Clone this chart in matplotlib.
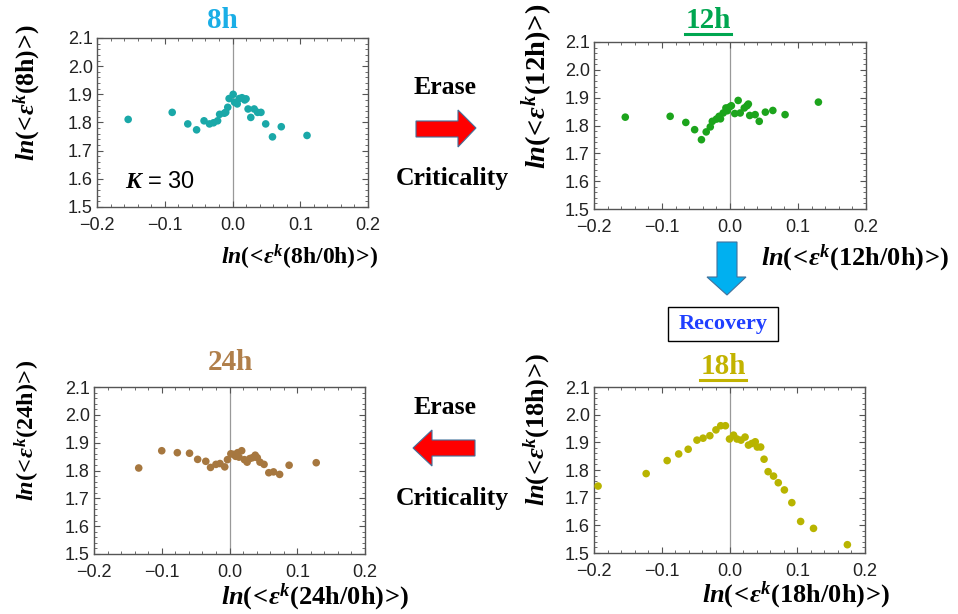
################################################################################
##### scatter panels of ln(<eps^k(t)>) vs ln(<eps^k(t/0h)>) for four time points #####
import matplotlib
matplotlib.use('Agg')
import matplotlib.pyplot as plt
from matplotlib.patches import Polygon, Rectangle
from matplotlib.ticker import MultipleLocator, FuncFormatter
import numpy as np

plt.rcParams['mathtext.fontset'] = 'custom'
plt.rcParams['mathtext.rm'] = 'Liberation Serif:bold'
plt.rcParams['mathtext.bf'] = 'Liberation Serif:bold'
plt.rcParams['mathtext.it'] = 'Liberation Serif:italic:bold'
plt.rcParams['font.family'] = 'Liberation Sans'

################################################################################
##### data #####
x_8h = [-0.154, -0.089, -0.066, -0.053, -0.042, -0.034, -0.028, -0.022, -0.019, -0.012,
        -0.010, -0.007, -0.005, 0.001, 0.003, 0.007, 0.010, 0.014, 0.018, 0.020,
        0.023, 0.027, 0.032, 0.037, 0.042, 0.049, 0.059, 0.072, 0.110]
y_8h = [1.811, 1.836, 1.795, 1.774, 1.806, 1.795, 1.799, 1.806, 1.829, 1.833,
        1.836, 1.854, 1.885, 1.900, 1.872, 1.866, 1.885, 1.888, 1.880, 1.884,
        1.848, 1.818, 1.848, 1.836, 1.836, 1.795, 1.749, 1.785, 1.754]

x_12h = [-0.154, -0.088, -0.065, -0.052, -0.042, -0.035, -0.029, -0.026, -0.020, -0.016,
         -0.014, -0.010, -0.006, -0.004, -0.001, 0.002, 0.007, 0.012, 0.015, 0.021,
         0.025, 0.027, 0.029, 0.037, 0.043, 0.052, 0.063, 0.081, 0.130]
y_12h = [1.830, 1.833, 1.811, 1.785, 1.749, 1.777, 1.795, 1.815, 1.823, 1.833,
         1.824, 1.845, 1.863, 1.853, 1.866, 1.871, 1.843, 1.890, 1.845, 1.863,
         1.871, 1.877, 1.836, 1.839, 1.815, 1.848, 1.854, 1.839, 1.884]

x_24h = [-0.134, -0.100, -0.077, -0.059, -0.047, -0.035, -0.028, -0.020, -0.014, -0.007,
         -0.003, 0.002, 0.006, 0.009, 0.012, 0.014, 0.018, 0.022, 0.026, 0.030,
         0.034, 0.038, 0.041, 0.045, 0.051, 0.058, 0.065, 0.074, 0.088, 0.128]
y_24h = [1.809, 1.871, 1.864, 1.862, 1.840, 1.833, 1.811, 1.822, 1.825, 1.813,
         1.839, 1.860, 1.858, 1.851, 1.864, 1.848, 1.871, 1.839, 1.830, 1.843,
         1.846, 1.855, 1.846, 1.830, 1.822, 1.792, 1.795, 1.786, 1.819, 1.828]

x_18h = [-0.194, -0.123, -0.092, -0.075, -0.061, -0.048, -0.039, -0.029, -0.020, -0.013,
         -0.006, 0.000, 0.006, 0.011, 0.017, 0.023, 0.028, 0.033, 0.038, 0.041,
         0.046, 0.051, 0.057, 0.065, 0.072, 0.081, 0.092, 0.105, 0.124, 0.174]
y_18h = [1.742, 1.787, 1.834, 1.858, 1.875, 1.908, 1.915, 1.924, 1.945, 1.960,
         1.960, 1.912, 1.926, 1.912, 1.908, 1.919, 1.890, 1.896, 1.902, 1.883,
         1.883, 1.839, 1.794, 1.778, 1.754, 1.728, 1.682, 1.614, 1.589, 1.530]

x_ticks = [-0.2, -0.1, 0.0, 0.1, 0.2]
y_ticks = [1.5, 1.6, 1.7, 1.8, 1.9, 2.0, 2.1]

################################################################################
##### figure and helpers (positions given in pixels of a 958x614 image) #####
W, H = 958, 614
fig = plt.figure(figsize=(W / 100, H / 100), dpi=100)
fig.patch.set_facecolor('white')

#overlay axes in pixel units for arrows and boxes
over = fig.add_axes([0, 0, 1, 1])
over.set_xlim(0, W)
over.set_ylim(H, 0)
over.axis('off')

def fx(x):
    return x / W

def fy(y):
    return 1 - y / H

def tick_fmt(v, pos):
    return ('%.1f' % np.round(v, 2)).replace('-', '\u2212')

def make_panel(l, t, r, b, xs, ys, color):
    ax = fig.add_axes([fx(l), fy(b), (r - l) / W, (b - t) / H])
    ax.scatter(xs, ys, s=30, color=color, edgecolors='none', zorder=3)
    ax.axvline(0, color='#999999', linewidth=0.9, zorder=1)
    ax.set_xlim(-0.2, 0.2)
    ax.set_ylim(1.5, 2.1)
    ax.set_xticks(x_ticks)
    ax.set_yticks(y_ticks)
    ax.xaxis.set_minor_locator(MultipleLocator(0.02))
    ax.yaxis.set_minor_locator(MultipleLocator(0.02))
    ax.xaxis.set_major_formatter(FuncFormatter(tick_fmt))
    ax.yaxis.set_major_formatter(FuncFormatter(tick_fmt))
    ax.tick_params(which='both', direction='in', top=True, right=True, color='#555555',
                   labelsize=13, labelcolor='#222222')
    ax.tick_params(axis='x', pad=7)
    ax.tick_params(axis='y', pad=3)
    ax.tick_params(which='major', length=4, width=0.8)
    ax.tick_params(which='minor', length=2.5, width=0.6)
    for sp in ax.spines.values():
        sp.set_color('#555555')
        sp.set_linewidth(1.0)
    return ax

def title_text(x, y, label, color, underline=False):
    t = fig.text(fx(x), fy(y), label, color=color, ha='center', va='center',
                 fontsize=21, fontweight='bold', family='Liberation Serif')
    if underline:
        fig.canvas.draw()
        bb = t.get_window_extent()
        over.plot([bb.x0, bb.x1], [H - bb.y0, H - bb.y0], color=color, linewidth=2.2)

def axis_label(x, y, label, size, rot=0):
    fig.text(fx(x), fy(y), label, ha='center', va='center', fontsize=size, rotation=rot,
             color='black')

def eps_label(inner):
    return r'$\mathit{ln}(\!{<}\!\mathit{\varepsilon}^{k}(\mathrm{' + inner + r'})\!{>}\!)$'

################################################################################
##### the four panels #####
ax1 = make_panel(97, 38, 368, 207, x_8h, y_8h, '#1aa8a8')
ax2 = make_panel(594, 42, 866, 209, x_12h, y_12h, '#1ca41c')
ax3 = make_panel(94, 387, 365, 554, x_24h, y_24h, '#a6773f')
ax4 = make_panel(594, 387, 865, 553, x_18h, y_18h, '#b8b400')

ax1.text(-0.107, 1.59, r'$\mathit{K}$ = 30', ha='center', va='center', fontsize=17,
         family='Liberation Sans')

title_text(222, 20, '8h', '#1aaee6')
title_text(708, 20, '12h', '#00a650', underline=True)
title_text(230, 362, '24h', '#b07f4a')
title_text(723, 366, '18h', '#c2b300', underline=True)

axis_label(27, 93, eps_label('8h'), 18.5, 90)
axis_label(300, 257, eps_label('8h/0h'), 17)
axis_label(537, 86, eps_label('12h'), 20.5, 90)
axis_label(855, 258, eps_label('12h/0h'), 19)
axis_label(27, 430, eps_label('24h'), 17.5, 90)
axis_label(315, 597, eps_label('24h/0h'), 19)
axis_label(796, 595, eps_label('18h/0h'), 19)
axis_label(537, 429, eps_label('18h'), 19, 90)

################################################################################
##### arrows and annotations between panels #####
serif_bold = dict(family='Liberation Serif', fontweight='bold', ha='center', va='center')
fig.text(fx(445), fy(88), 'Erase', fontsize=18.5, **serif_bold)
fig.text(fx(452), fy(178), 'Criticality', fontsize=18.5, **serif_bold)
fig.text(fx(445), fy(407), 'Erase', fontsize=18.5, **serif_bold)
fig.text(fx(452), fy(498), 'Criticality', fontsize=18.5, **serif_bold)

right_arrow = [(416, 121), (458, 121), (458, 110), (476, 128), (458, 147), (458, 137), (416, 137)]
over.add_patch(Polygon(right_arrow, closed=True, facecolor='#ff0000', edgecolor='#41719c', linewidth=0.8))
left_arrow = [(475, 440), (432, 440), (432, 430), (413, 448), (432, 466), (432, 456), (475, 456)]
over.add_patch(Polygon(left_arrow, closed=True, facecolor='#ff0000', edgecolor='#41719c', linewidth=0.8))
down_arrow = [(717, 242), (737, 242), (737, 277), (746, 277), (727, 295), (707, 277), (717, 277)]
over.add_patch(Polygon(down_arrow, closed=True, facecolor='#00b0f0', edgecolor='#41719c', linewidth=0.8))

over.add_patch(Rectangle((668, 307), 110, 34, facecolor='white', edgecolor='black', linewidth=1.0))
fig.text(fx(723), fy(324), 'Recovery', fontsize=16, color='#1f3fff', **serif_bold)

plt.savefig('out.png', dpi=100, facecolor='white')
